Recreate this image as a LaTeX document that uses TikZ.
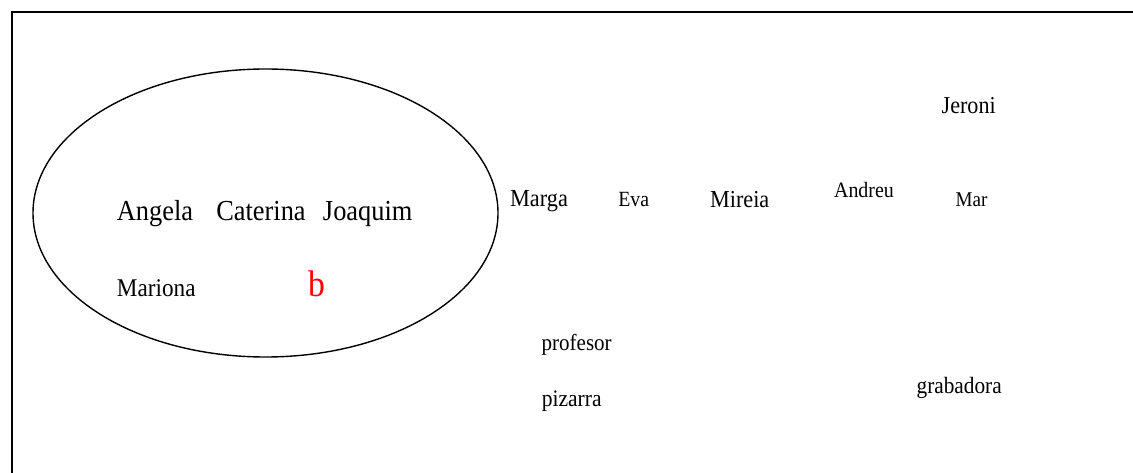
\documentclass[tikz,border=0pt]{standalone}
\usepackage{fontspec}
\setmainfont[FakeStretch=0.91]{Liberation Serif}
\begin{document}
\begin{tikzpicture}[x=1pt,y=-1pt,
  lbl/.style={anchor=base,inner sep=0pt,outer sep=0pt},
  fs/.style={font=\fontsize{#1}{#1}\selectfont}]
\useasboundingbox (0,0) rectangle (1133,473);
% frame (left and top edges)
\draw[line width=2.2pt] (12,473) -- (12,12) -- (1133,12);
% ellipse
\draw[line width=1.4pt] (265.5,213) ellipse [x radius=232.5, y radius=144];
% texts inside ellipse
\node[lbl,fs=29] (angela) at (155,221) {Angela};
\node[lbl,fs=29] (caterina) at (261,221) {Caterina};
\node[lbl,fs=29] (joaquim) at (367.7,221) {Joaquim};
\node[lbl,fs=25.5] (mariona) at (156.3,296.5) {Mariona};
\node[lbl,fs=37,text={rgb,255:red,255;green,0;blue,0}] (b) at (316.5,296.5) {b};
% outside texts
\node[lbl,fs=24.3] (jeroni) at (968.7,113.5) {Jeroni};
\node[lbl,fs=24.5] (marga) at (539,206.5) {Marga};
\node[lbl,fs=21.7] (eva) at (633.7,206.5) {Eva};
\node[lbl,fs=24.4] (mireia) at (739.7,207.5) {Mireia};
\node[lbl,fs=21.9] (andreu) at (864,198) {Andreu};
\node[lbl,fs=21] (mar) at (971.5,206.5) {Mar};
\node[lbl,fs=23.1] (profesor) at (576.7,350) {profesor};
\node[lbl,fs=23.7] (pizarra) at (571.7,406.5) {pizarra};
\node[lbl,fs=23.4] (grabadora) at (959.2,393) {grabadora};
\end{tikzpicture}
\end{document}
